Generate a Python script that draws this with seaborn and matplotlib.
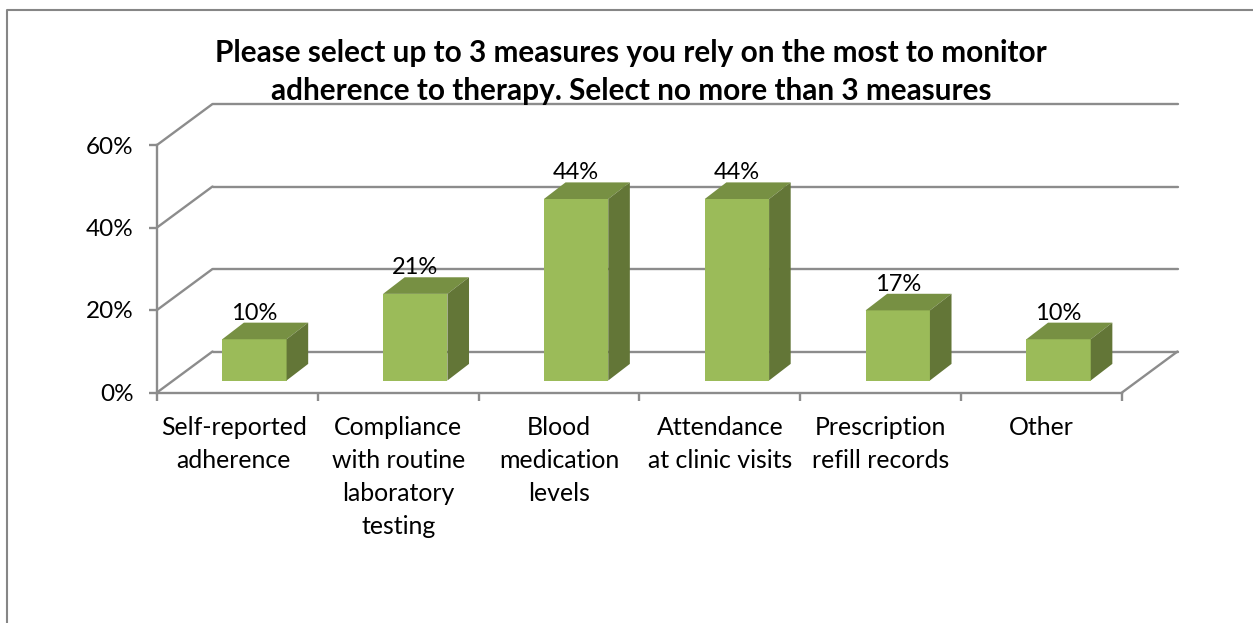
"""Recreates the 3D-look column chart on adherence measures."""
import matplotlib

matplotlib.use("Agg")
import matplotlib.pyplot as plt
import pandas as pd
import seaborn as sns
from matplotlib.lines import Line2D
from matplotlib.patches import Polygon
from matplotlib.transforms import IdentityTransform, ScaledTranslation

CATEGORIES = [
    "Self-reported\nadherence",
    "Compliance\nwith routine\nlaboratory\ntesting",
    "Blood\nmedication\nlevels",
    "Attendance\nat clinic visits",
    "Prescription\nrefill records",
    "Other",
]
VALUES = [10, 21, 44, 44, 17, 10]
Y_TICKS = [0, 20, 40, 60]
TITLE = (
    "Please select up to 3 measures you rely on the most to monitor\n"
    "adherence to therapy. Select no more than 3 measures"
)

W, H = 1253, 623
FRONT = "#9BBB59"
TOP = "#779043"
SIDE = "#637637"
LINE = "#8C8C8C"
FRAME = "#868686"
LW = 1.7
DEPTH_DX, DEPTH_DY = 55.5, 41  # px, front plane to back wall

sns.set_theme(style="white")
plt.rcParams["font.family"] = ["Lato", "DejaVu Sans"]
plt.rcParams["text.color"] = "black"
plt.rcParams["xtick.labelcolor"] = "black"
plt.rcParams["ytick.labelcolor"] = "black"


def px_rect(left, right, top, bottom):
    return [left / W, 1 - bottom / H, (right - left) / W, (bottom - top) / H]


def px_shift(fig, dx, dy):
    return ScaledTranslation(dx / fig.dpi, dy / fig.dpi, fig.dpi_scale_trans)


def depth_line(ax, x, y):
    # diagonal from a data point on the front plane back to the wall
    start = ScaledTranslation(x, y, ax.transData)
    ax.add_line(Line2D([0, DEPTH_DX], [0, DEPTH_DY], color=LINE, lw=LW, clip_on=False,
                       zorder=1, transform=IdentityTransform() + start))


df = pd.DataFrame({"measure": CATEGORIES, "value": VALUES})

fig = plt.figure(figsize=(W / 100, H / 100), dpi=100)

# chart frame runs off the top right of the crop
fig.add_artist(Line2D([7 / W, 7 / W, 1], [0, 1 - 9.5 / H, 1 - 9.5 / H], color=FRAME, lw=1.5))

# front plane: axis lines, ticks, labels
ax = fig.add_axes(px_rect(157, 1122, 145, 392.5))
ax.set_xlim(-0.5, len(CATEGORIES) - 0.5)
ax.set_ylim(0, 60)
ax.patch.set_alpha(0)
sns.despine(ax=ax)
for side in ("left", "bottom"):
    ax.spines[side].set_color(LINE)
    ax.spines[side].set_linewidth(LW)
ax.set_xticks([i - 0.5 for i in range(len(CATEGORIES) + 1)])
ax.set_xticklabels([])
ax.set_xticks(range(len(CATEGORIES)), CATEGORIES, minor=True)
ax.tick_params(axis="x", which="major", length=5.5, width=LW, color=LINE, bottom=True)
ax.tick_params(axis="x", which="minor", length=0, pad=17, labelsize=17.9)
ax.set_yticks(Y_TICKS, [f"{t}%" for t in Y_TICKS])
ax.tick_params(axis="y", length=6, width=LW, color=LINE, left=True, pad=11, labelsize=17.5)
for lab in ax.get_xticklabels(minor=True):
    lab.set_linespacing(1.52)
first = ax.get_xticklabels(minor=True)[0]
first.set_transform(first.get_transform() + px_shift(fig, -3.5, 0))

# back wall and floor, pushed back by the depth offset
back = ax.transData + px_shift(fig, DEPTH_DX, DEPTH_DY)
x0, x1 = ax.get_xlim()
for t in Y_TICKS:
    ax.plot([x0, x1], [t, t], transform=back, color=LINE, lw=LW, clip_on=False, zorder=1)
    depth_line(ax, x0, t)
depth_line(ax, x1, 0)

# bars stand partway into the depth, so they get their own shifted axes
ax_bars = fig.add_axes(px_rect(174, 1139, 133, 380.5))
ax_bars.patch.set_alpha(0)
sns.barplot(data=df, x="measure", y="value", color=FRONT, saturation=1, width=0.4,
            ax=ax_bars, zorder=3)
ax_bars.set_xlim(x0, x1)
ax_bars.set_ylim(0, 60)
ax_bars.axis("off")

depth_x = 21.6 / (965 / 6)
depth_y = 16.6 / (247.5 / 60)
for bar, val in zip(ax_bars.patches, VALUES):
    bar.set_edgecolor("none")
    left, right = bar.get_x(), bar.get_x() + bar.get_width()
    h = bar.get_height()
    ax_bars.add_patch(Polygon(
        [(left, h), (right, h), (right + depth_x, h + depth_y), (left + depth_x, h + depth_y)],
        facecolor=TOP, edgecolor="none", zorder=3, clip_on=False,
    ))
    ax_bars.add_patch(Polygon(
        [(right, 0), (right + depth_x, depth_y), (right + depth_x, h + depth_y), (right, h)],
        facecolor=SIDE, edgecolor="none", zorder=3, clip_on=False,
    ))
    ax_bars.annotate(f"{val}%", (left + bar.get_width() / 2, h), xytext=(0, 18.8),
                     textcoords="offset points", ha="center", va="center",
                     fontsize=17, zorder=4, annotation_clip=False)

fig.text(631 / W, 1 - 72 / H, TITLE, ha="center", va="center", fontsize=21.4,
         fontweight="bold", linespacing=1.45)

fig.savefig("out.png", dpi=100)
